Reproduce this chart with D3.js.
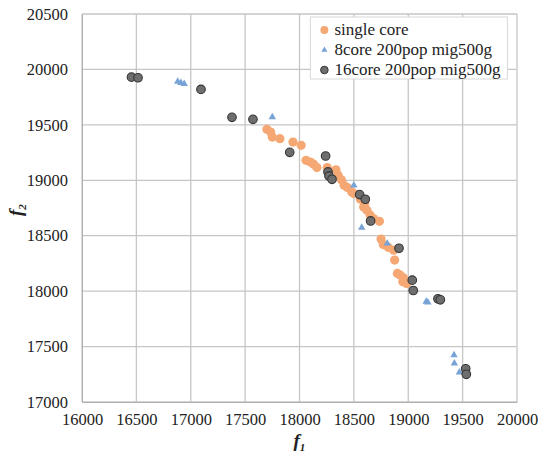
<!DOCTYPE html>
<html>
<head>
<meta charset="utf-8">
<script src="https://cdn.jsdelivr.net/npm/d3@7"></script>
<style>
  body { margin: 0; background: #fff; }
</style>
</head>
<body>
<div id="chart"></div>
<script>
// values (f1, f2)
var singleCore = [
  [17700,19460],[17735,19435],[17750,19390],[17820,19375],[17940,19345],[18015,19315],
  [18060,19180],[18100,19165],[18130,19145],[18160,19115],[18255,19115],[18335,19095],
  [18355,19045],[18385,19005],[18410,18955],[18440,18935],[18480,18895],[18500,18880],
  [18560,18830],[18600,18790],[18590,18760],[18620,18730],[18650,18685],[18680,18655],
  [18735,18630],[18750,18470],[18770,18420],[18815,18395],[18865,18370],[18875,18280],
  [18900,18160],[18925,18145],[18955,18120],[18950,18085],[18985,18070]
];
var core8 = [
  [16880,19890],[16910,19880],[16940,19870],[17750,19570],[18500,18955],[18572,18574],
  [18807,18430],[19165,17906],[19180,17900],[19421,17424],[19424,17349],[19470,17268]
];
var core16 = [
  [16455,19930],[16515,19925],[17094,19820],[17379,19568],[17572,19550],[17910,19252],
  [18240,19219],[18262,19075],[18271,19039],[18299,19009],[18553,18871],[18605,18829],
  [18654,18633],[18915,18387],[19037,18099],[19046,18006],[19273,17931],[19295,17922],
  [19528,17300],[19534,17250]
];
var xTicks = [16000,16500,17000,17500,18000,18500,19000,19500,20000];
var yTicks = [17000,17500,18000,18500,19000,19500,20000,20500];
var seriesNames = ["single core", "8core 200pop mig500g", "16core 200pop mig500g"];

var serif = "'Liberation Serif'";

var margin = { top: 14, left: 82, right: 21, bottom: 54 },
  width = 538 - margin.left - margin.right,
  height = 456 - margin.top - margin.bottom;

var svg = d3.select("#chart")
  .append("svg")
  .attr("width", 538)
  .attr("height", 456)
  .append("g")
  .attr("transform", "translate(" + margin.left + "," + margin.top + ")");

var xPositionScale = d3.scaleLinear().domain([16000, 20000]).range([0, width]);
var yPositionScale = d3.scaleLinear().domain([17000, 20500]).range([height, 0]);

// grid
svg.selectAll(".xgrid")
  .data(xTicks)
  .enter().append("line")
  .attr("x1", function(d) { return xPositionScale(d) })
  .attr("x2", function(d) { return xPositionScale(d) })
  .attr("y1", 0).attr("y2", height)
  .attr("stroke", "#c6c6c6").attr("stroke-width", 1.3);

svg.selectAll(".ygrid")
  .data(yTicks)
  .enter().append("line")
  .attr("y1", function(d) { return yPositionScale(d) })
  .attr("y2", function(d) { return yPositionScale(d) })
  .attr("x1", 0).attr("x2", width)
  .attr("stroke", "#c6c6c6").attr("stroke-width", 1.3);

// axes
var xAxis = d3.axisBottom(xPositionScale).tickValues(xTicks).tickSize(0).tickPadding(11).tickFormat(d3.format("d"));
var xg = svg.append("g")
  .attr("class", "axis x-axis")
  .attr("transform", "translate(0," + height + ")")
  .call(xAxis);
xg.select(".domain").attr("stroke", "#b0b0b0");
xg.selectAll("text").style("font-family", serif).style("font-size", "16.5px").attr("fill", "#222");

var yAxis = d3.axisLeft(yPositionScale).tickValues(yTicks).tickSize(0).tickPadding(14).tickFormat(d3.format("d"));
var yg = svg.append("g")
  .attr("class", "axis y-axis")
  .call(yAxis);
yg.select(".domain").attr("stroke", "#b0b0b0");
yg.selectAll("text").style("font-family", serif).style("font-size", "16.5px").attr("fill", "#222");

// points
svg.selectAll(".single")
  .data(singleCore)
  .enter().append("circle")
  .attr("cx", function(d) { return xPositionScale(d[0]) })
  .attr("cy", function(d) { return yPositionScale(d[1]) })
  .attr("r", 4.6)
  .attr("fill", "#f5a874");

var tri = d3.symbol().type(d3.symbolTriangle).size(24);
svg.selectAll(".c8")
  .data(core8)
  .enter().append("path")
  .attr("d", tri)
  .attr("transform", function(d) { return "translate(" + xPositionScale(d[0]) + "," + yPositionScale(d[1]) + ")" })
  .attr("fill", "#77a3d6");

svg.selectAll(".c16")
  .data(core16)
  .enter().append("circle")
  .attr("cx", function(d) { return xPositionScale(d[0]) })
  .attr("cy", function(d) { return yPositionScale(d[1]) })
  .attr("r", 4.3)
  .attr("fill", "#6e6e6e")
  .attr("stroke", "#353535")
  .attr("stroke-width", 1.1);

// legend
var legend = svg.append("g").attr("transform", "translate(" + xPositionScale(18100) + ",3)");
legend.append("rect")
  .attr("width", 197).attr("height", 62)
  .attr("fill", "#fff").attr("stroke", "#d8d8d8");
seriesNames.forEach(function(name, i) {
  var y = 13 + i * 20;
  if (i == 0) {
    legend.append("circle").attr("cx", 14).attr("cy", y).attr("r", 4).attr("fill", "#f5a874");
  } else if (i == 1) {
    legend.append("path").attr("d", d3.symbol().type(d3.symbolTriangle).size(16))
      .attr("transform", "translate(14," + y + ")").attr("fill", "#77a3d6");
  } else {
    legend.append("circle").attr("cx", 14).attr("cy", y).attr("r", 3.8)
      .attr("fill", "#6e6e6e").attr("stroke", "#353535");
  }
  legend.append("text")
    .attr("x", 24).attr("y", y + 5)
    .style("font-family", serif)
    .style("font-size", "17px")
    .attr("fill", "#222")
    .text(name);
});

// axis titles
var fx = svg.append("text")
  .attr("x", xPositionScale(18000) - 6)
  .attr("y", height + 45)
  .style("font-family", serif)
  .style("font-size", "19px")
  .attr("fill", "#222")
  .attr("font-style", "italic").attr("font-weight", "bold");
fx.append("tspan").text("f");
fx.append("tspan").style("font-size", "11px").attr("dy", 4).text("1");

var fy = svg.append("text")
  .attr("transform", "translate(-60," + (yPositionScale(18750) + 8) + ") rotate(-90)")
  .style("font-family", serif)
  .style("font-size", "19px")
  .attr("fill", "#222")
  .attr("font-style", "italic").attr("font-weight", "bold");
fy.append("tspan").text("f");
fy.append("tspan").style("font-size", "11px").attr("dy", 4).text("2");
</script>
</body>
</html>
